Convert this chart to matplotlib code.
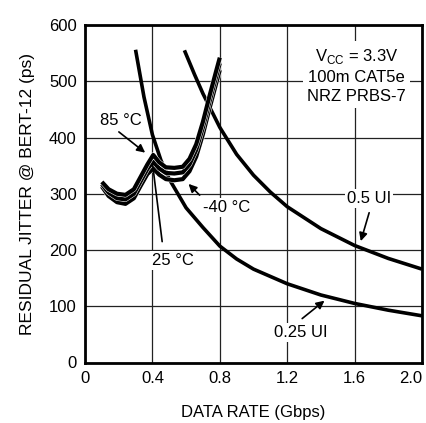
import matplotlib
matplotlib.use("Agg")
import matplotlib.pyplot as plt
import matplotlib.patheffects as pe

plt.rcParams['font.family'] = ['Liberation Sans', 'DejaVu Sans']

# Data
ui05_x = [0.59, 0.65, 0.70, 0.80, 0.90, 1.00, 1.10, 1.20, 1.40, 1.60, 1.80, 2.00]
ui05_y = [555, 512, 478, 418, 370, 333, 303, 277, 238, 208, 185, 166]

ui025_x = [0.30, 0.35, 0.40, 0.45, 0.50, 0.60, 0.70, 0.80, 0.90, 1.00, 1.20, 1.40, 1.60, 1.80, 2.00]
ui025_y = [556, 472, 405, 360, 326, 275, 240, 207, 184, 166, 140, 120, 105, 93, 83]

temp_x = [0.10, 0.14, 0.19, 0.24, 0.29, 0.33, 0.37, 0.405, 0.44, 0.48, 0.53, 0.58,
          0.62, 0.66, 0.70, 0.74, 0.78, 0.80]
t85_y = [321, 308, 300, 298, 308, 330, 352, 369, 356, 347, 346, 348,
         362, 388, 428, 475, 520, 542]
t25_y = [317, 302, 292, 290, 300, 322, 344, 357, 345, 337, 336, 338,
         352, 378, 418, 465, 510, 532]
tm40_y = [313, 296, 285, 282, 292, 314, 335, 345, 334, 326, 324, 326,
          340, 366, 406, 453, 498, 520]

xticks = [0, 0.4, 0.8, 1.2, 1.6, 2.0]
xtick_labels = ['0', '0.4', '0.8', '1.2', '1.6', '2.0']
yticks = [0, 100, 200, 300, 400, 500, 600]

fig = plt.figure(figsize=(4.27, 4.23), dpi=100)
ax = fig.add_axes([85/427, 1-362.5/423, 337/427, 337.5/423])

ax.set_xlim(0, 2.0)
ax.set_ylim(0, 600)
ax.set_xticks(xticks)
ax.set_xticklabels(xtick_labels)
ax.set_yticks(yticks)
ax.grid(True, color='#222222', linewidth=0.9)
ax.set_axisbelow(True)
for s in ax.spines.values():
    s.set_linewidth(2.0)
ax.tick_params(length=0, labelsize=12, pad=6, colors='black')
xl = ax.get_xticklabels()
xl[-1].set_horizontalalignment('right')

lw = 2.6
ax.plot(ui05_x, ui05_y, color='black', lw=lw, solid_capstyle='butt')
ax.plot(ui025_x, ui025_y, color='black', lw=lw, solid_capstyle='butt')
tlw = 3.0
halo = [pe.Stroke(linewidth=tlw + 0.7, foreground='white'), pe.Normal()]
for ys in (tm40_y, t25_y, t85_y):
    ax.plot(temp_x, ys, color='black', lw=tlw, solid_capstyle='butt', path_effects=halo)

box = dict(facecolor='white', edgecolor='none', pad=1.5)
fs = 12

ax.text(0.21, 431, '85 °C', fontsize=fs, ha='center', va='center', bbox=box)
ax.annotate('', xy=(0.37, 370), xytext=(0.188, 413),
            arrowprops=dict(arrowstyle='-|>', color='black', lw=1.2, mutation_scale=12))

ax.text(0.52, 182, '25 °C', fontsize=fs, ha='center', va='center', bbox=box)
ax.annotate('', xy=(0.40, 355), xytext=(0.46, 210),
            arrowprops=dict(arrowstyle='-', color='black', lw=1.2))

ax.text(0.84, 276, '-40 °C', fontsize=fs, ha='center', va='center', bbox=box)
ax.annotate('', xy=(0.603, 321), xytext=(0.692, 294),
            arrowprops=dict(arrowstyle='-|>', color='black', lw=1.2, mutation_scale=12))

ax.text(1.686, 291, '0.5 UI', fontsize=fs, ha='center', va='center', bbox=box)
ax.annotate('', xy=(1.632, 211), xytext=(1.691, 271),
            arrowprops=dict(arrowstyle='-|>', color='black', lw=1.2, mutation_scale=12))

ax.text(1.28, 53, '0.25 UI', fontsize=fs, ha='center', va='center', bbox=box)
ax.annotate('', xy=(1.434, 113), xytext=(1.276, 75),
            arrowprops=dict(arrowstyle='-|>', color='black', lw=1.2, mutation_scale=12))

ax.text(1.612, 510, 'V$_{\\mathregular{CC}}$ = 3.3V\n100m CAT5e\nNRZ PRBS-7', fontsize=fs,
        ha='center', va='center', linespacing=1.35,
        bbox=dict(facecolor='white', edgecolor='none', pad=3))

ax.set_xlabel('DATA RATE (Gbps)', fontsize=12, labelpad=14)
ax.set_ylabel('RESIDUAL JITTER @ BERT-12 (ps)', fontsize=12.5, labelpad=10)

fig.savefig('out.png', dpi=100)
